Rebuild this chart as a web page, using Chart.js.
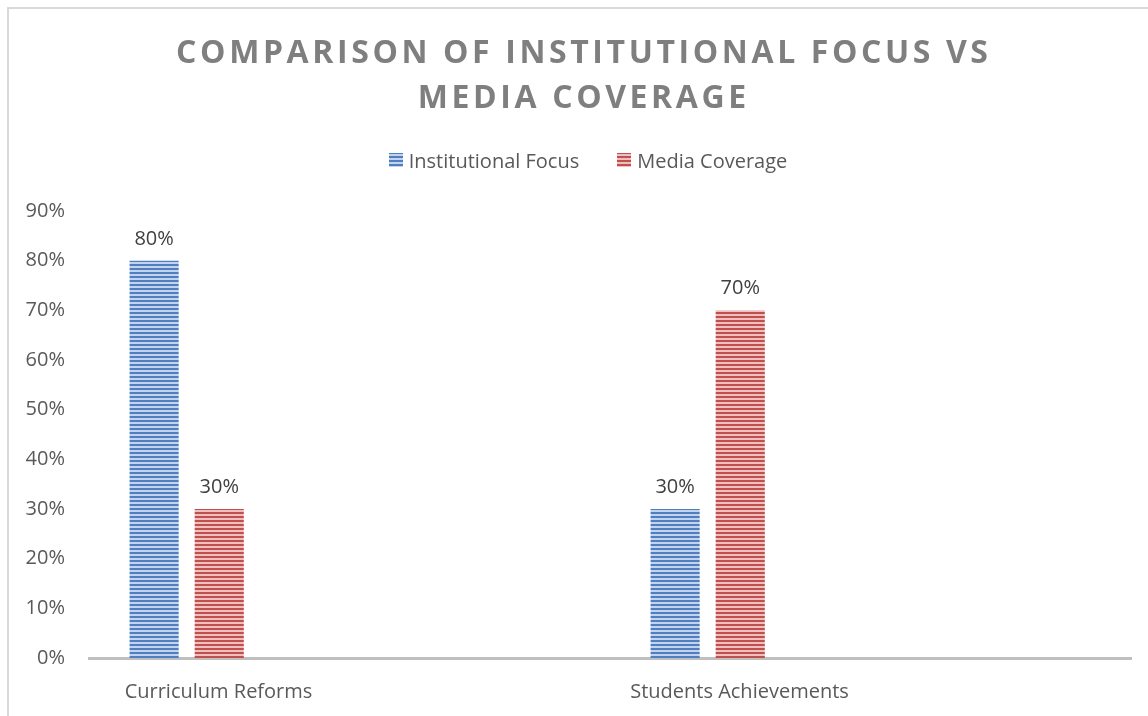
<!DOCTYPE html>
<html>
<head>
<meta charset="utf-8">
<script src="https://cdn.jsdelivr.net/npm/chart.js@4.4.1/dist/chart.umd.min.js"></script>
<style>
  html, body { margin: 0; padding: 0; background: #fff; }
  #wrap { width: 1148px; height: 716px; position: relative; }
</style>
</head>
<body>
<div id="wrap"><canvas id="chart" width="1148" height="716"></canvas></div>
<script>
// data
const categories = ['Curriculum Reforms', 'Students Achievements'];
const institutionalFocus = [80, 30];
const mediaCoverage = [30, 70];
const seriesNames = ['Institutional Focus', 'Media Coverage'];
const yTicksMax = 90;
const titleLines = ['COMPARISON OF INSTITUTIONAL FOCUS VS', 'MEDIA COVERAGE'];

// the original chart keeps 5 empty series slots to the right of the two shown
const emptySlots = 5;

const FONT = "'Open Sans', 'Liberation Sans', sans-serif";
const TEXT = '#595959';
const SIZE = 20;

function stripes(dark, light) {
  const c = document.createElement('canvas');
  c.width = 4; c.height = 4;
  const g = c.getContext('2d');
  g.fillStyle = light; g.fillRect(0, 0, 4, 4);
  g.fillStyle = dark; g.fillRect(0, 0, 4, 2);
  return g.createPattern(c, 'repeat');
}

const ctx = document.getElementById('chart').getContext('2d');
const blue = stripes('#4f7fc0', '#c3d3ec');
const red = stripes('#c0504d', '#edbfbe');

const datasets = [
  { label: seriesNames[0], data: institutionalFocus, backgroundColor: blue },
  { label: seriesNames[1], data: mediaCoverage, backgroundColor: red }
];
for (let i = 0; i < emptySlots; i++) {
  datasets.push({ label: '', data: categories.map(() => null), spacer: true });
}

const frame = {
  id: 'frame',
  beforeDraw(chart) {
    const c = chart.ctx;
    c.save();
    c.fillStyle = '#fff';
    c.fillRect(0, 0, chart.width, chart.height);
    c.strokeStyle = '#d9d9d9';
    c.lineWidth = 2;
    c.strokeRect(8, 8, chart.width + 20, chart.height + 20);
    c.restore();
  }
};

const titleAndLegend = {
  id: 'titleAndLegend',
  afterDraw(chart) {
    const c = chart.ctx;
    c.save();
    // title
    c.fillStyle = '#7f7f7f';
    c.font = 'bold 32px ' + FONT;
    c.letterSpacing = '3.6px';
    c.textAlign = 'center';
    c.textBaseline = 'alphabetic';
    titleLines.forEach((t, i) => c.fillText(t, 582 + 1.8, 63 + i * 45));
    c.letterSpacing = '0px';

    // legend
    c.font = SIZE + 'px ' + FONT;
    c.textAlign = 'left';
    const items = chart.data.datasets.filter(d => !d.spacer);
    const widths = items.map(d => 14 + 6 + c.measureText(d.label).width);
    const gap = 38;
    let x = 588 - (widths.reduce((a, b) => a + b, 0) + gap * (items.length - 1)) / 2;
    items.forEach((d, i) => {
      c.fillStyle = d.backgroundColor;
      c.fillRect(Math.round(x), 153, 14, 14);
      c.fillStyle = TEXT;
      c.fillText(d.label, x + 20, 168);
      x += widths[i] + gap;
    });
    c.restore();
  }
};

const valueLabels = {
  id: 'valueLabels',
  afterDatasetsDraw(chart) {
    const c = chart.ctx;
    c.save();
    c.font = SIZE + 'px ' + FONT;
    c.fillStyle = '#404040';
    c.textAlign = 'center';
    c.textBaseline = 'alphabetic';
    chart.data.datasets.forEach((d, i) => {
      if (d.spacer) return;
      chart.getDatasetMeta(i).data.forEach((bar, j) => {
        c.fillText(d.data[j] + '%', bar.x, bar.y - 16);
      });
    });
    c.restore();
  }
};

new Chart(ctx, {
  type: 'bar',
  data: { labels: categories, datasets },
  options: {
    responsive: false,
    animation: false,
    layout: { padding: { top: 211, right: 17, bottom: 0, left: 0 } },
    datasets: { bar: { categoryPercentage: 0.875, barPercentage: 0.754 } },
    plugins: {
      legend: { display: false },
      title: { display: false },
      tooltip: { enabled: false }
    },
    scales: {
      x: {
        grid: { display: false },
        border: { display: true, color: '#bfbfbf', width: 3 },
        ticks: { color: TEXT, font: { family: FONT, size: SIZE }, padding: 14, labelOffset: -131, maxRotation: 0 },
        afterFit(s) { s.height = 58; }
      },
      y: {
        min: 0, max: yTicksMax,
        grid: { display: false },
        border: { display: false },
        ticks: { stepSize: 10, color: TEXT, font: { family: FONT, size: SIZE }, padding: 16, callback: v => v + '%' },
        afterFit(s) { s.width = 89; }
      }
    }
  },
  plugins: [frame, valueLabels, titleAndLegend]
});
</script>
</body>
</html>
